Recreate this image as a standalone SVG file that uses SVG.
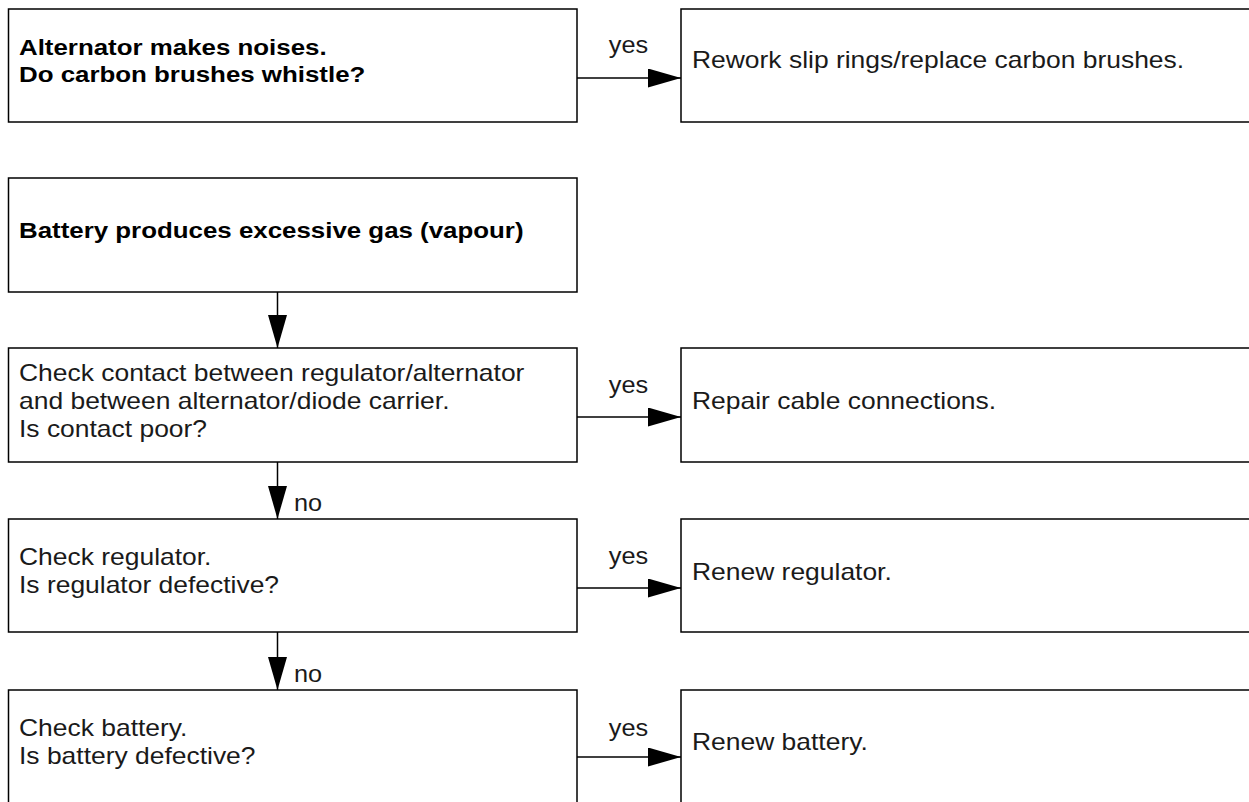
<svg xmlns="http://www.w3.org/2000/svg" width="1249" height="802" viewBox="0 0 1249 802">
<style>
.box{fill:#fff;stroke:#000;stroke-width:1.5}
.b{font-family:"Liberation Sans",Arial,sans-serif;font-weight:bold;font-size:22.5px;fill:#000}
.t{font-family:"Liberation Sans",Arial,sans-serif;font-size:23px;fill:#1a1a1a}
.m{text-anchor:middle}
.c{stroke:#000;stroke-width:1.5;fill:none}
</style>
<defs>
<marker id="ah" viewBox="0 0 33 19" refX="33" refY="9.5" markerWidth="33" markerHeight="19" markerUnits="userSpaceOnUse" orient="auto">
<path d="M0,0 L33,9.5 L0,19 Z" fill="#000"/>
</marker>
</defs>
<rect width="1249" height="802" fill="#fff"/>
<g id="n1"><rect class="box" x="8.5" y="9" width="568.5" height="113"/><text class="b" transform="translate(19 55) scale(1.15 1)">Alternator makes noises.</text><text class="b" transform="translate(19 82) scale(1.15 1)">Do carbon brushes whistle?</text></g>
<g id="r1"><rect class="box" x="681" y="9" width="580" height="113"/><text class="t" transform="translate(692 68) scale(1.15 1)">Rework slip rings/replace carbon brushes.</text></g>
<g id="n2"><rect class="box" x="8.5" y="178" width="568.5" height="114"/><text class="b" transform="translate(19 238) scale(1.15 1)">Battery produces excessive gas (vapour)</text></g>
<g id="n3"><rect class="box" x="8.5" y="348" width="568.5" height="114"/><text class="t" transform="translate(19 381) scale(1.15 1)">Check contact between regulator/alternator</text><text class="t" transform="translate(19 409) scale(1.15 1)">and between alternator/diode carrier.</text><text class="t" transform="translate(19 437) scale(1.15 1)">Is contact poor?</text></g>
<g id="r3"><rect class="box" x="681" y="348" width="580" height="114"/><text class="t" transform="translate(692 409) scale(1.15 1)">Repair cable connections.</text></g>
<g id="n4"><rect class="box" x="8.5" y="519" width="568.5" height="113"/><text class="t" transform="translate(19 565) scale(1.15 1)">Check regulator.</text><text class="t" transform="translate(19 593) scale(1.15 1)">Is regulator defective?</text></g>
<g id="r4"><rect class="box" x="681" y="519" width="580" height="113"/><text class="t" transform="translate(692 580) scale(1.15 1)">Renew regulator.</text></g>
<g id="n5"><rect class="box" x="8.5" y="690" width="568.5" height="130"/><text class="t" transform="translate(19 736) scale(1.15 1)">Check battery.</text><text class="t" transform="translate(19 764) scale(1.15 1)">Is battery defective?</text></g>
<g id="r5"><rect class="box" x="681" y="690" width="580" height="130"/><text class="t" transform="translate(692 750) scale(1.15 1)">Renew battery.</text></g>
<g id="connectors">
<line class="c" x1="577" y1="78" x2="681" y2="78" marker-end="url(#ah)"/>
<text class="t m" transform="translate(628.5 53) scale(1.1 1)">yes</text>
<line class="c" x1="277.5" y1="292" x2="277.5" y2="348" marker-end="url(#ah)"/>
<line class="c" x1="577" y1="417" x2="681" y2="417" marker-end="url(#ah)"/>
<text class="t m" transform="translate(628.5 393) scale(1.1 1)">yes</text>
<line class="c" x1="277.5" y1="462" x2="277.5" y2="519" marker-end="url(#ah)"/>
<text class="t" transform="translate(294 511) scale(1.1 1)">no</text>
<line class="c" x1="577" y1="588" x2="681" y2="588" marker-end="url(#ah)"/>
<text class="t m" transform="translate(628.5 564) scale(1.1 1)">yes</text>
<line class="c" x1="277.5" y1="632" x2="277.5" y2="690" marker-end="url(#ah)"/>
<text class="t" transform="translate(294 682) scale(1.1 1)">no</text>
<line class="c" x1="577" y1="757" x2="681" y2="757" marker-end="url(#ah)"/>
<text class="t m" transform="translate(628.5 736) scale(1.1 1)">yes</text>
</g>
</svg>
